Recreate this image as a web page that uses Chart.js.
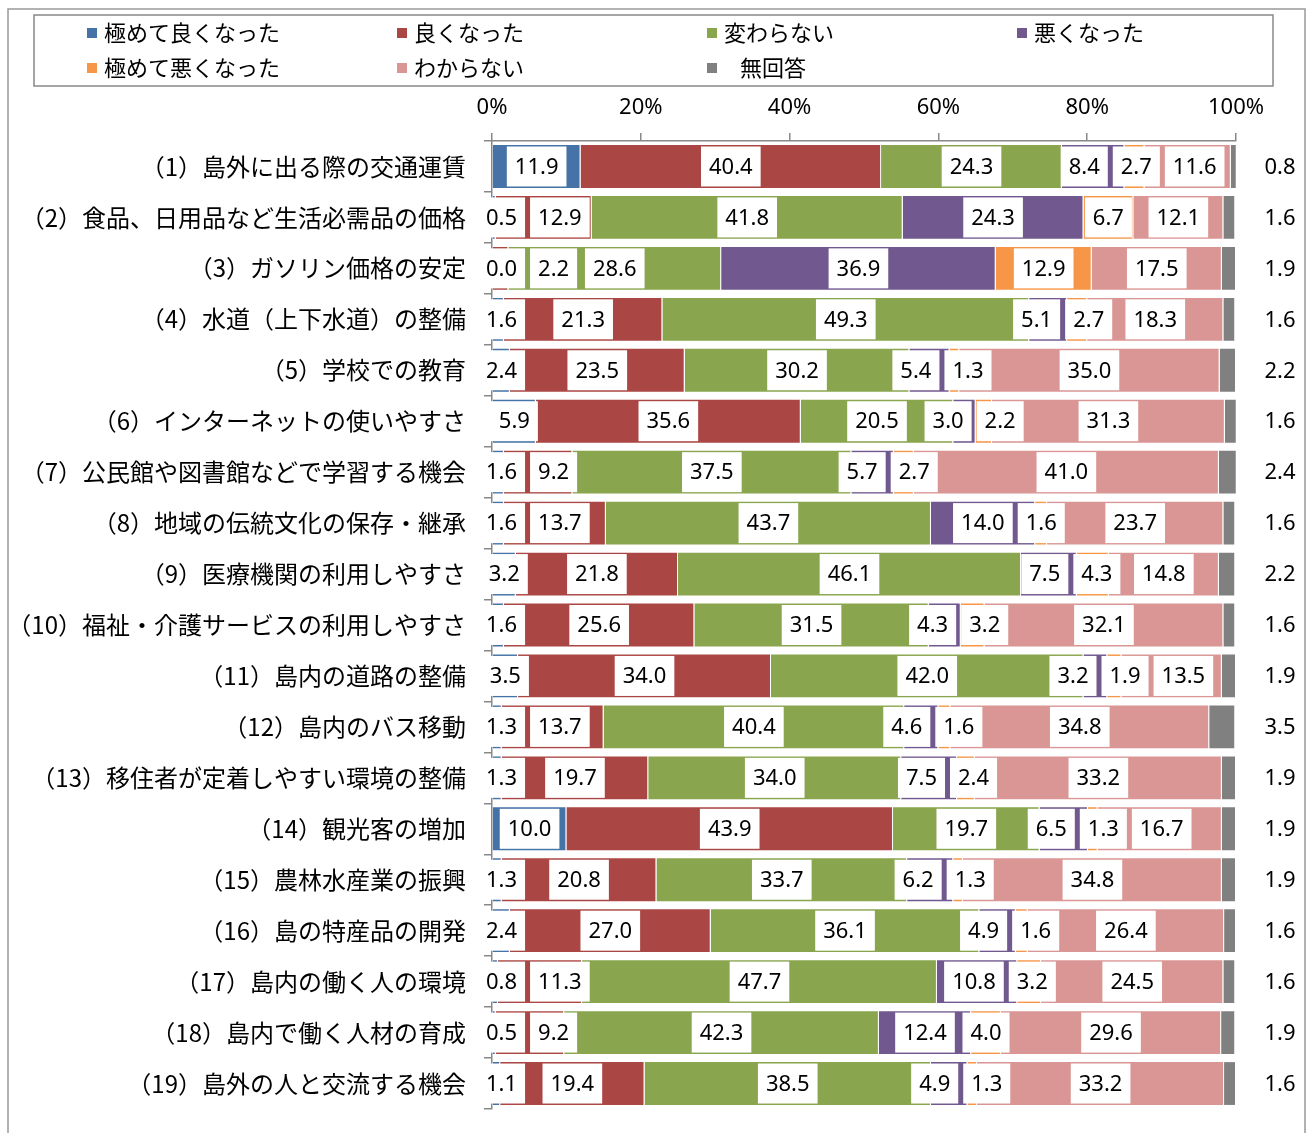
<!DOCTYPE html>
<html lang="ja">
<head>
<meta charset="utf-8">
<script src="https://cdn.jsdelivr.net/npm/chart.js@4.4.1/dist/chart.umd.min.js"></script>
<style>
  html, body { margin: 0; padding: 0; background: #fff; }
  #wrap { width: 1311px; height: 1133px; position: relative; }
</style>
</head>
<body>
<div id="wrap"><canvas id="chart" width="1311" height="1133"></canvas></div>
<script>
const categories = [
  "（1）島外に出る際の交通運賃",
  "（2）食品、日用品など生活必需品の価格",
  "（3）ガソリン価格の安定",
  "（4）水道（上下水道）の整備",
  "（5）学校での教育",
  "（6）インターネットの使いやすさ",
  "（7）公民館や図書館などで学習する機会",
  "（8）地域の伝統文化の保存・継承",
  "（9）医療機関の利用しやすさ",
  "（10）福祉・介護サービスの利用しやすさ",
  "（11）島内の道路の整備",
  "（12）島内のバス移動",
  "（13）移住者が定着しやすい環境の整備",
  "（14）観光客の増加",
  "（15）農林水産業の振興",
  "（16）島の特産品の開発",
  "（17）島内の働く人の環境",
  "（18）島内で働く人材の育成",
  "（19）島外の人と交流する機会"
];

const seriesNames = ["極めて良くなった", "良くなった", "変わらない", "悪くなった", "極めて悪くなった", "わからない", "無回答"];
const seriesColors = ["#4572A7", "#AA4643", "#89A54E", "#71588F", "#F79646", "#DA9694", "#808080"];

const veryGood  = [11.9, 0.5, 0.0, 1.6, 2.4, 5.9, 1.6, 1.6, 3.2, 1.6, 3.5, 1.3, 1.3, 10.0, 1.3, 2.4, 0.8, 0.5, 1.1];
const good      = [40.4, 12.9, 2.2, 21.3, 23.5, 35.6, 9.2, 13.7, 21.8, 25.6, 34.0, 13.7, 19.7, 43.9, 20.8, 27.0, 11.3, 9.2, 19.4];
const unchanged = [24.3, 41.8, 28.6, 49.3, 30.2, 20.5, 37.5, 43.7, 46.1, 31.5, 42.0, 40.4, 34.0, 19.7, 33.7, 36.1, 47.7, 42.3, 38.5];
const worse     = [8.4, 24.3, 36.9, 5.1, 5.4, 3.0, 5.7, 14.0, 7.5, 4.3, 3.2, 4.6, 7.5, 6.5, 6.2, 4.9, 10.8, 12.4, 4.9];
const veryWorse = [2.7, 6.7, 12.9, 2.7, 1.3, 2.2, 2.7, 1.6, 4.3, 3.2, 1.9, 1.6, 2.4, 1.3, 1.3, 1.6, 3.2, 4.0, 1.3];
const unknown   = [11.6, 12.1, 17.5, 18.3, 35.0, 31.3, 41.0, 23.7, 14.8, 32.1, 13.5, 34.8, 33.2, 16.7, 34.8, 26.4, 24.5, 29.6, 33.2];
const noAnswer  = [0.8, 1.6, 1.9, 1.6, 2.2, 1.6, 2.4, 1.6, 2.2, 1.6, 1.9, 3.5, 1.9, 1.9, 1.9, 1.6, 1.6, 1.9, 1.6];

const xTicks = [0, 20, 40, 60, 80, 100];

const allSeries = [veryGood, good, unchanged, worse, veryWorse, unknown, noAnswer];

const numFont = '22px "Noto Sans", "Liberation Sans", sans-serif';
const jpFont = '"Noto Sans CJK JP", sans-serif';

// push overlapping labels apart, keep inside bounds
function spread(items, lo, hi, gap) {
  for (let k = 0; k < 200; k++) {
    let moved = false;
    for (let j = 0; j < items.length - 1; j++) {
      const a = items[j], b = items[j + 1];
      const need = a.w / 2 + b.w / 2 + gap;
      const d = b.c - a.c;
      if (d < need - 0.01) {
        const m = (need - d) / 2;
        a.c -= m;
        b.c += m;
        moved = true;
      }
    }
    items.forEach(it => {
      it.c = Math.max(lo + it.w / 2, Math.min(hi - it.w / 2, it.c));
    });
    if (!moved) break;
  }
}

const framePlugin = {
  id: "frame",
  beforeDraw(chart) {
    const ctx = chart.ctx;
    ctx.save();
    ctx.fillStyle = "#fff";
    ctx.fillRect(0, 0, chart.width, chart.height);
    // outer frame
    ctx.strokeStyle = "#999";
    ctx.lineWidth = 1.5;
    ctx.beginPath();
    ctx.moveTo(8, 1140);
    ctx.lineTo(8, 9);
    ctx.lineTo(1305, 9);
    ctx.lineTo(1305, 1140);
    ctx.stroke();
    // legend box
    ctx.strokeStyle = "#888";
    ctx.lineWidth = 1.5;
    ctx.strokeRect(34, 15, 1239, 71);
    // legend items in 4 columns
    ctx.font = "22px " + jpFont;
    ctx.textBaseline = "middle";
    ctx.textAlign = "left";
    seriesNames.forEach((name, i) => {
      const col = i % 4, row = Math.floor(i / 4);
      const x = 87 + col * 310;
      const y = 33 + row * 35;
      ctx.fillStyle = seriesColors[i];
      ctx.fillRect(x, y - 5, 10, 10);
      ctx.fillStyle = "#000";
      ctx.fillText(name, x + (i === 6 ? 33 : 17), y);
    });
    ctx.restore();
  }
};

const labelPlugin = {
  id: "valueLabels",
  afterDatasetsDraw(chart) {
    const { ctx, chartArea } = chart;
    const last = chart.data.datasets.length - 1;
    ctx.save();
    ctx.font = numFont;
    ctx.textAlign = "center";
    ctx.textBaseline = "middle";
    categories.forEach((cat, i) => {
      const items = [];
      let y = 0;
      chart.data.datasets.forEach((ds, d) => {
        const el = chart.getDatasetMeta(d).data[i];
        y = el.y;
        const text = ds.data[i].toFixed(1);
        if (d === last) {
          ctx.fillStyle = "#000";
          ctx.fillText(text, chartArea.right + 44, y + 1);
          return;
        }
        const w = ctx.measureText(text).width + 16;
        items.push({ text, w, c: (el.x + el.base) / 2 });
      });
      spread(items, chartArea.left - 14, chartArea.right - 5, 5);
      items.forEach(it => {
        ctx.fillStyle = "#fff";
        ctx.fillRect(it.c - it.w / 2, y - 20, it.w, 40);
        ctx.fillStyle = "#000";
        ctx.fillText(it.text, it.c, y + 1);
      });
    });
    ctx.restore();
  }
};

const ctx = document.getElementById("chart");

new Chart(ctx, {
  type: "bar",
  data: {
    labels: categories,
    datasets: allSeries.map((vals, i) => ({
      label: seriesNames[i],
      data: vals,
      backgroundColor: seriesColors[i],
      borderColor: "rgba(255,255,255,0.9)",
      borderWidth: 1,
      categoryPercentage: 1.0,
      barPercentage: 0.88
    }))
  },
  options: {
    indexAxis: "y",
    responsive: false,
    animation: false,
    layout: { padding: { top: 91, left: 0, right: 75, bottom: 24 } },
    plugins: {
      legend: { display: false },
      tooltip: { enabled: false }
    },
    scales: {
      x: {
        position: "top",
        stacked: true,
        min: 0,
        max: 100,
        afterBuildTicks: (s) => { s.ticks = xTicks.map(v => ({ value: v })); },
        afterFit: (s) => { s.height = 50; },
        ticks: {
          color: "#000",
          font: { family: '"Noto Sans", "Liberation Sans", sans-serif', size: 22 },
          padding: 12,
          callback: (v) => v + "%"
        },
        grid: { drawOnChartArea: false, drawTicks: true, tickLength: 8, color: "#888", lineWidth: 1.5 },
        border: { display: true, color: "#888", width: 1.5 }
      },
      y: {
        stacked: true,
        afterFit: (s) => { s.width = 492; s.paddingTop = 0; s.paddingBottom = 0; },
        ticks: {
          color: "#000",
          autoSkip: false,
          padding: 18,
          font: { family: jpFont, size: 24 }
        },
        grid: { offset: true, drawOnChartArea: false, drawTicks: true, tickLength: 8, color: "#888", lineWidth: 1.5 },
        border: { display: true, color: "#888", width: 1.5 }
      }
    }
  },
  plugins: [framePlugin, labelPlugin]
});
</script>
</body>
</html>
